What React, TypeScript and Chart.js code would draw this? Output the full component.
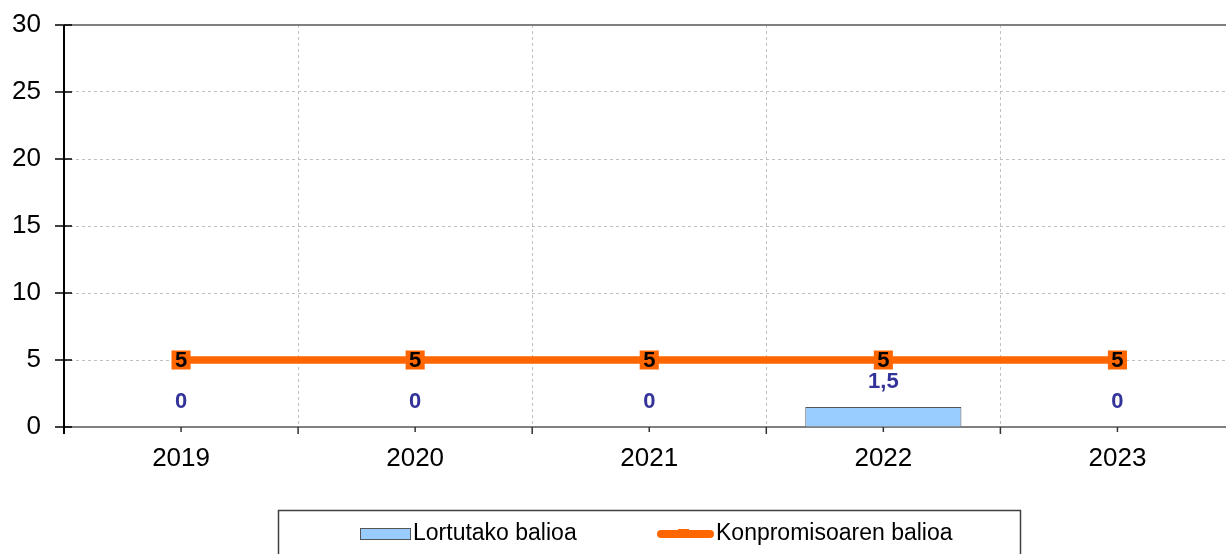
import React, { useEffect, useRef } from "react";
import { Chart, registerables } from "chart.js";

Chart.register(...registerables);

const categories = ["2019", "2020", "2021", "2022", "2023"];
const achievedValues = [0, 0, 0, 1.5, 0];
const commitmentValues = [5, 5, 5, 5, 5];
const yTicks = [0, 5, 10, 15, 20, 25, 30];
const seriesNames = ["Lortutako balioa", "Konpromisoaren balioa"];

const FONT = "'Liberation Sans', Arial, sans-serif";
const fmt = (v: number) => String(v).replace(".", ",");

const overlayPlugin = {
  id: "overlay",
  beforeDatasetsDraw(chart: any) {
    const { ctx, chartArea, scales } = chart;
    const x = scales.x;
    const y = scales.y;
    ctx.save();
    ctx.strokeStyle = "#808080";
    ctx.lineWidth = 2;
    ctx.beginPath();
    ctx.moveTo(chartArea.left, y.getPixelForValue(30));
    ctx.lineTo(chartArea.right, y.getPixelForValue(30));
    ctx.stroke();
    const y0 = y.getPixelForValue(0);
    ctx.beginPath();
    ctx.moveTo(chartArea.left, y0);
    ctx.lineTo(chartArea.right, y0);
    ctx.stroke();
    ctx.strokeStyle = "#333333";
    ctx.lineWidth = 1.5;
    const n = categories.length;
    for (let i = 0; i < n; i++) {
      const c = x.getPixelForValue(i);
      ctx.beginPath();
      ctx.moveTo(c, y0);
      ctx.lineTo(c, y0 + 5);
      ctx.stroke();
      if (i > 0) {
        const b = (x.getPixelForValue(i - 1) + c) / 2;
        ctx.beginPath();
        ctx.moveTo(b, y0);
        ctx.lineTo(b, y0 + 7);
        ctx.stroke();
      }
    }
    ctx.strokeStyle = "#000000";
    ctx.lineWidth = 2;
    ctx.beginPath();
    ctx.moveTo(chartArea.left, chartArea.top);
    ctx.lineTo(chartArea.left, y0 + 7);
    ctx.stroke();
    ctx.lineWidth = 1.5;
    for (const t of yTicks) {
      const p = y.getPixelForValue(t);
      ctx.beginPath();
      ctx.moveTo(chartArea.left - 9, p);
      ctx.lineTo(chartArea.left + 8, p);
      ctx.stroke();
    }
    ctx.restore();
  },
  afterDatasetsDraw(chart: any) {
    const { ctx } = chart;
    ctx.save();
    ctx.textAlign = "center";
    ctx.textBaseline = "middle";
    ctx.font = `bold 22px ${FONT}`;
    const barMeta = chart.getDatasetMeta(0);
    barMeta.data.forEach((el: any, i: number) => {
      ctx.fillStyle = "#333399";
      ctx.fillText(fmt(achievedValues[i]), el.x, el.y - 25);
    });
    const lineMeta = chart.getDatasetMeta(1);
    lineMeta.data.forEach((el: any, i: number) => {
      ctx.fillStyle = "#000000";
      ctx.fillText(fmt(commitmentValues[i]), el.x, el.y + 1);
    });
    ctx.restore();
  },
  afterDraw(chart: any) {
    const { ctx } = chart;
    ctx.save();
    ctx.strokeStyle = "#404040";
    ctx.lineWidth = 1.5;
    ctx.strokeRect(278.5, 510.5, 742, 80);
    ctx.fillStyle = "#99CCFF";
    ctx.fillRect(360.5, 528.5, 50, 11);
    ctx.strokeStyle = "#555555";
    ctx.lineWidth = 1;
    ctx.strokeRect(360.5, 528.5, 50, 11);
    ctx.fillStyle = "#000000";
    ctx.font = `23px ${FONT}`;
    ctx.textAlign = "left";
    ctx.textBaseline = "middle";
    ctx.fillText(seriesNames[0], 413, 534);
    ctx.strokeStyle = "#FF6600";
    ctx.lineWidth = 8;
    ctx.lineCap = "round";
    ctx.beginPath();
    ctx.moveTo(661, 534);
    ctx.lineTo(710, 534);
    ctx.stroke();
    ctx.fillStyle = "#FF6600";
    ctx.fillRect(678, 529, 11, 8);
    ctx.fillStyle = "#000000";
    ctx.fillText(seriesNames[1], 716, 534);
    ctx.restore();
  },
};

export default function App() {
  const ref = useRef<HTMLCanvasElement | null>(null);
  useEffect(() => {
    document.body.style.margin = "0";
    const canvas = ref.current;
    if (!canvas) return;
    const chart = new Chart(canvas, {
      type: "bar",
      data: {
        labels: categories,
        datasets: [
          {
            type: "bar",
            label: seriesNames[0],
            data: achievedValues,
            backgroundColor: "#99CCFF",
            borderColor: "#555555",
            borderWidth: 1,
            barPercentage: 0.667,
            categoryPercentage: 1,
            order: 2,
          } as any,
          {
            type: "line",
            label: seriesNames[1],
            data: commitmentValues,
            borderColor: "#FF6600",
            borderWidth: 7.5,
            pointStyle: "rect",
            pointRadius: 13.5,
            pointBorderWidth: 0,
            pointBackgroundColor: "#FF6600",
            order: 1,
          } as any,
        ],
      },
      options: {
        responsive: false,
        animation: false,
        devicePixelRatio: 1,
        layout: { padding: { left: 0, top: 25, right: 5, bottom: 0 } },
        plugins: {
          legend: { display: false },
          tooltip: { enabled: false },
        },
        scales: {
          x: {
            grid: {
              display: true,
              offset: true,
              color: "#C0C0C0",
              lineWidth: 1,
              drawTicks: false,
            },
            border: { display: false, dash: [3, 3] },
            ticks: {
              color: "#000000",
              font: { family: FONT, size: 26 },
              padding: 16,
            },
            afterFit(scale: any) {
              scale.height = 127;
            },
          },
          y: {
            min: 0,
            max: 30,
            grid: { color: "#C0C0C0", lineWidth: 1, drawTicks: false },
            border: { display: false, dash: [3, 3] },
            ticks: {
              stepSize: 5,
              color: "#000000",
              font: { family: FONT, size: 26 },
              padding: 23,
            },
            afterFit(scale: any) {
              scale.width = 64;
              scale.paddingTop = 0;
              scale.paddingBottom = 0;
            },
          },
        },
      },
      plugins: [overlayPlugin],
    });
    return () => chart.destroy();
  }, []);
  return (
    <div style={{ width: 1226, height: 554, overflow: "hidden", position: "relative" }}>
      <canvas ref={ref} width={1248} height={554} style={{ display: "block" }} />
    </div>
  );
}
